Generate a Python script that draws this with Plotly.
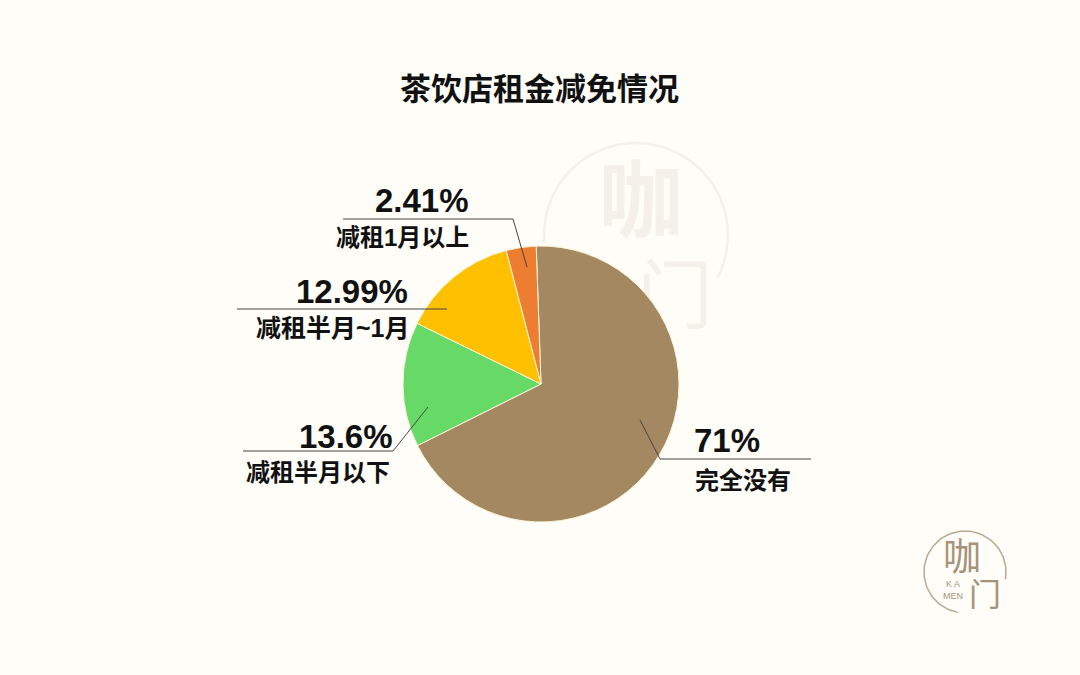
import math
import plotly.graph_objects as go

labels = ["完全没有", "减租半月以下", "减租半月~1月", "减租1月以上"]
# Printed percentages, as written in the reference's labels
pcts = ["71%", "13.6%", "12.99%", "2.41%"]
# Slice sizes as actually drawn in the reference (measured from its angles)
drawn_shares = [68.2, 14.6, 13.7, 3.5]
colors = ["#A48862", "#66D966", "#FFC000", "#ED7D31"]
BG = "#FEFDF8"
CJK = "Liberation Sans, Noto Sans CJK SC"
INK = "#111111"
WM = "#F5F1EA"
LOGO = "#A8937A"
W, H = 1080, 675
cx, cy, r = 541, 384, 138

def px(x): return x / W
def py(y): return 1 - y / H

def arc(x0, y0, rad, start, end):
    n = 90
    angs = [math.radians(start + (end - start) * i / n) for i in range(n + 1)]
    return [x0 + rad * math.cos(a) for a in angs], [y0 + rad * math.sin(a) for a in angs]

fig = go.Figure()

# Watermark sits in the cartesian layer, so the pie covers it
wx, wy = arc(636, 235, 92, 175, 388)
fig.add_trace(go.Scatter(x=wx, y=wy, mode="lines", line=dict(color=WM, width=2.5),
                         hoverinfo="skip", showlegend=False))
fig.add_trace(go.Scatter(x=[641, 675], y=[210, 304], mode="text", text=["<b>咖</b>", "门"],
                         textposition="middle center", hoverinfo="skip", showlegend=False,
                         textfont=dict(family="Noto Sans CJK SC", size=[84, 76], color=WM)))

fig.add_trace(go.Pie(
    labels=labels, values=drawn_shares, sort=False, direction="clockwise", rotation=-2,
    marker=dict(colors=colors, line=dict(color="#FBF6D8", width=1)),
    textinfo="none", hoverinfo="label", showlegend=False,
    domain=dict(x=[px(cx - r), px(cx + r)], y=[py(cy + r), py(cy - r)]),
))

anns = [
    (727, 440, pcts[0], 33), (743, 480, labels[0], 24),
    (346, 436, pcts[1], 33), (318, 472, labels[1], 24),
    (352, 291, pcts[2], 33), (333, 328, labels[2], 25),
    (422, 201, pcts[3], 33), (402, 238, labels[3], 24),
    (539, 89, "茶饮店租金减免情况", 31),
]
annotations = [dict(x=px(x), y=py(y), xref="paper", yref="paper", text=f"<b>{t}</b>",
                    showarrow=False, xanchor="center", yanchor="middle",
                    font=dict(family=CJK, size=s, color=INK)) for x, y, t, s in anns]

annotations += [
    dict(x=px(962), y=py(553), xref="paper", yref="paper", text="咖", showarrow=False,
         xanchor="center", yanchor="middle",
         font=dict(family="Noto Sans CJK SC", size=38, color=LOGO)),
    dict(x=px(985), y=py(592), xref="paper", yref="paper", text="门", showarrow=False,
         xanchor="center", yanchor="middle",
         font=dict(family="Noto Sans CJK SC", size=32, color=LOGO)),
    dict(x=px(953), y=py(590), xref="paper", yref="paper", text="K A<br>MEN", showarrow=False,
         xanchor="center", yanchor="middle",
         font=dict(family="Liberation Sans", size=9, color=LOGO)),
]

def seg(pts, color="#444444"):
    return [dict(type="line", xref="paper", yref="paper", x0=px(a), y0=py(b), x1=px(c), y1=py(d),
                 line=dict(color=color, width=1)) for (a, b), (c, d) in zip(pts, pts[1:])]

shapes = []
shapes += seg([(640, 420), (660, 459), (811, 459)])
shapes += seg([(428, 407), (393, 451), (243, 451)])
shapes += seg([(447, 309), (237, 309)])
shapes += seg([(527, 267), (513, 219), (343, 219)])

lx, ly = arc(965, 572, 41, 100, 370)
fig.add_trace(go.Scatter(x=lx, y=ly, mode="lines", line=dict(color="#B9A98F", width=1.5),
                         hoverinfo="skip", showlegend=False))

fig.update_layout(width=W, height=H, autosize=False, margin=dict(l=0, r=0, t=0, b=0),
                  paper_bgcolor=BG, plot_bgcolor=BG,
                  xaxis=dict(range=[0, W], visible=False, domain=[0, 1]),
                  yaxis=dict(range=[H, 0], visible=False, domain=[0, 1]),
                  annotations=annotations, shapes=shapes)
fig.write_html("out.html", config=dict(displayModeBar=False),
               post_script=f"document.body.style.margin='0';document.body.style.background='{BG}';"
                           "document.documentElement.style.overflow='hidden';")
